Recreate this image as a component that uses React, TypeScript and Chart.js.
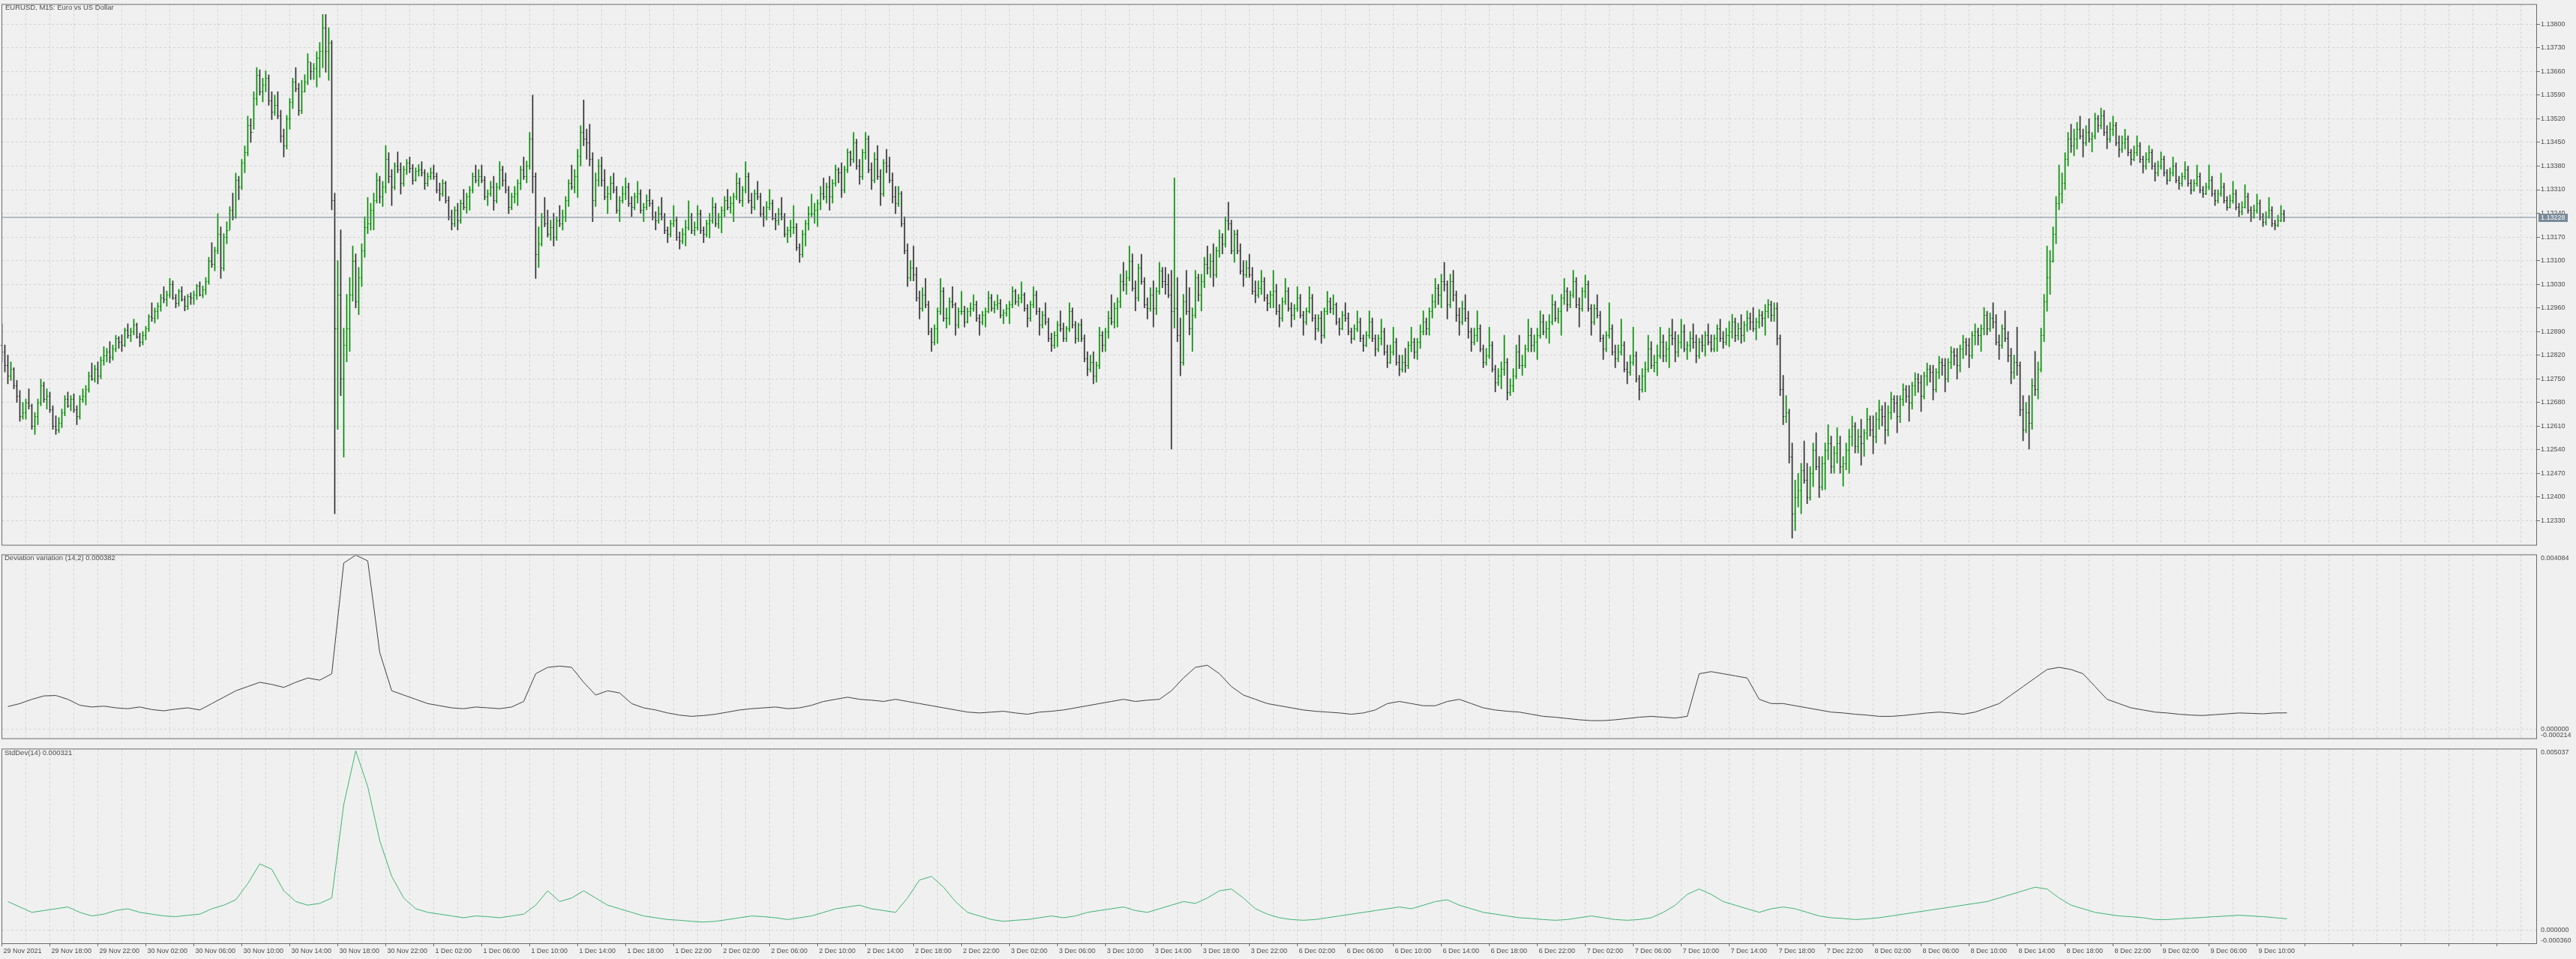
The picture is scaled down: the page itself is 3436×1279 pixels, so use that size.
import React, { useEffect, useRef } from 'react';
import { Chart, registerables } from 'chart.js';

Chart.register(...registerables);

// ---------------- text ----------------
const MAIN_TITLE = 'EURUSD, M15:  Euro vs US Dollar';
const DEV_TITLE = 'Deviation variation (14,2) 0.000382';
const STD_TITLE = 'StdDev(14) 0.000321';

// ---------------- data: M15 bars, prices in points above 1.12000 ----------------
const PRICE_BASE = 1.12;
const POINT = 0.00001;
const FIRST_OPEN = 850;
// one row = two hours (8 bars); bar 0 = 29 Nov 14:00, weekend skipped after bar 423
const BAR_HIGH = [
  913, 850, 820, 800, 783, 745, 715, 680, 690, 720, 675, 650, 690, 749, 740, 720,
  711, 670, 640, 635, 660, 700, 711, 700, 705, 670, 700, 720, 730, 770, 797, 790,
  800, 815, 845, 840, 860, 850, 879, 875, 880, 900, 913, 900, 927, 915, 885, 890,
  905, 940, 975, 960, 975, 1000, 1023, 1010, 1047, 1040, 1000, 1015, 1023, 995, 1000, 1005,
  1010, 1030, 1037, 1025, 1050, 1110, 1153, 1140, 1239, 1200, 1180, 1215, 1260, 1300, 1359, 1350,
  1400, 1440, 1528, 1520, 1600, 1672, 1665, 1640, 1662, 1650, 1600, 1590, 1600, 1545, 1490, 1530,
  1580, 1640, 1672, 1625, 1634, 1651, 1713, 1687, 1684, 1719, 1746, 1829, 1829, 1790, 1752, 1300,
  1100, 1191, 900, 1000, 1050, 1143, 1120, 1080, 1150, 1230, 1287, 1270, 1300, 1359, 1350, 1335,
  1441, 1420, 1370, 1390, 1422, 1390, 1380, 1400, 1407, 1385, 1375, 1385, 1393, 1370, 1360, 1375,
  1383, 1360, 1330, 1340, 1335, 1290, 1250, 1260, 1270, 1280, 1311, 1300, 1320, 1360, 1383, 1370,
  1383, 1350, 1310, 1335, 1350, 1330, 1393, 1380, 1359, 1320, 1300, 1320, 1340, 1380, 1407, 1395,
  1480, 1590, 1360, 1200, 1240, 1287, 1250, 1220, 1240, 1230, 1263, 1250, 1290, 1340, 1383, 1370,
  1430, 1500, 1576, 1490, 1504, 1420, 1360, 1400, 1407, 1370, 1320, 1350, 1359, 1320, 1290, 1320,
  1345, 1330, 1290, 1300, 1335, 1310, 1270, 1295, 1311, 1280, 1245, 1260, 1287, 1240, 1200, 1220,
  1263, 1230, 1185, 1195, 1220, 1277, 1240, 1215, 1263, 1250, 1200, 1220, 1240, 1287, 1270, 1240,
  1260, 1290, 1311, 1290, 1300, 1359, 1345, 1320, 1393, 1360, 1300, 1310, 1335, 1300, 1260, 1275,
  1311, 1280, 1240, 1255, 1287, 1240, 1200, 1220, 1263, 1210, 1150, 1190, 1220, 1260, 1297, 1270,
  1280, 1320, 1345, 1330, 1350, 1340, 1383, 1375, 1390, 1380, 1431, 1425, 1480, 1460, 1400, 1430,
  1480, 1470, 1390, 1420, 1441, 1370, 1400, 1430, 1407, 1360, 1320, 1320, 1305, 1230, 1150, 1100,
  1143, 1080, 1010, 1020, 1047, 980, 900, 910, 960, 1047, 1020, 960, 990, 1023, 975, 960,
  1009, 965, 960, 975, 999, 980, 940, 950, 960, 1009, 1000, 980, 999, 985, 955, 970,
  980, 1023, 1015, 1000, 1037, 1005, 970, 980, 1023, 1010, 960, 950, 975, 930, 885, 890,
  920, 951, 915, 905, 975, 960, 920, 915, 927, 880, 830, 820, 830, 800, 903, 890,
  900, 950, 999, 975, 990, 1060, 1095, 1070, 1143, 1120, 1040, 1090, 1119, 1050, 990, 1020,
  1040, 1020, 1095, 1080, 1080, 1060, 1071, 1345, 1050, 930, 1000, 1071, 1020, 960, 1071, 1060,
  1060, 1110, 1143, 1120, 1150, 1140, 1191, 1180, 1230, 1273, 1220, 1190, 1191, 1150, 1100, 1100,
  1119, 1080, 1040, 1040, 1071, 1050, 1000, 1010, 1071, 1030, 970, 990, 1047, 1020, 975, 970,
  1023, 1000, 950, 960, 1023, 1000, 940, 940, 950, 960, 1009, 990, 999, 975, 930, 950,
  975, 945, 900, 910, 951, 930, 880, 890, 951, 930, 880, 880, 927, 900, 850, 850,
  903, 870, 820, 820, 840, 860, 903, 870, 870, 910, 951, 930, 960, 1000, 1047, 1030,
  1060, 1095, 1040, 1060, 1071, 1010, 960, 980, 999, 950, 900, 900, 951, 910, 850, 840,
  903, 860, 790, 780, 800, 879, 810, 750, 780, 850, 879, 820, 850, 927, 900, 880,
  900, 951, 940, 920, 940, 999, 980, 960, 1000, 1047, 1020, 1010, 1071, 1050, 990, 1020,
  1057, 1040, 970, 970, 999, 950, 880, 890, 975, 910, 850, 850, 927, 860, 800, 820,
  903, 830, 760, 780, 800, 879, 860, 820, 850, 903, 880, 860, 900, 927, 890, 880,
  927, 910, 860, 890, 913, 880, 870, 880, 890, 913, 880, 880, 910, 927, 890, 900,
  920, 941, 930, 915, 940, 920, 951, 945, 961, 930, 955, 950, 970, 985, 980, 975,
  975, 880, 760, 700, 660, 560, 450, 470, 500, 566, 500, 490, 560, 590, 520, 520,
  560, 614, 580, 550, 605, 580, 520, 560, 600, 639, 620, 600, 630, 600, 663, 640,
  640, 650, 687, 670, 680, 670, 711, 700, 700, 700, 735, 730, 730, 740, 768, 765,
  760, 770, 797, 790, 790, 780, 817, 810, 810, 810, 845, 840, 840, 850, 879, 870,
  870, 890, 913, 900, 910, 961, 950, 945, 975, 940, 880, 910, 951, 890, 840, 820,
  903, 800, 700, 680, 700, 750, 831, 800, 900, 1000, 1143, 1130, 1200, 1290, 1383, 1360,
  1420, 1480, 1504, 1490, 1510, 1528, 1490, 1500, 1520, 1480, 1537, 1530, 1552, 1545, 1500, 1510,
  1528, 1510, 1470, 1470, 1489, 1470, 1430, 1440, 1470, 1450, 1410, 1420, 1441, 1430, 1390, 1395,
  1422, 1410, 1370, 1375, 1407, 1390, 1350, 1360, 1393, 1380, 1340, 1340, 1383, 1360, 1320, 1330,
  1383, 1350, 1310, 1310, 1359, 1330, 1290, 1295, 1335, 1310, 1270, 1275, 1325, 1300, 1260, 1265,
  1297, 1280, 1240, 1245, 1287, 1260, 1220, 1235, 1263, 1250,
];
const BAR_LOW = [
  800, 770, 735, 745, 720, 680, 624, 630, 630, 660, 600, 585, 614, 670, 680, 660,
  650, 600, 585, 590, 605, 640, 665, 655, 650, 614, 630, 680, 672, 710, 745, 740,
  735, 750, 790, 800, 797, 805, 830, 840, 831, 845, 870, 860, 880, 870, 845, 850,
  865, 890, 920, 915, 927, 950, 975, 965, 990, 985, 960, 965, 980, 951, 955, 970,
  970, 985, 995, 990, 999, 1030, 1080, 1070, 1120, 1047, 1070, 1150, 1191, 1220, 1225, 1280,
  1311, 1360, 1410, 1450, 1489, 1560, 1590, 1570, 1600, 1560, 1518, 1530, 1520, 1450, 1407, 1430,
  1489, 1550, 1600, 1530, 1535, 1599, 1621, 1636, 1636, 1614, 1643, 1671, 1658, 1634, 1250, 350,
  600, 700, 518, 800, 831, 980, 960, 940, 1023, 1110, 1180, 1190, 1191, 1270, 1270, 1260,
  1300, 1330, 1263, 1310, 1360, 1297, 1320, 1355, 1360, 1326, 1335, 1350, 1350, 1311, 1320, 1340,
  1340, 1300, 1277, 1290, 1270, 1220, 1191, 1200, 1191, 1210, 1250, 1240, 1249, 1300, 1330, 1320,
  1330, 1280, 1263, 1290, 1249, 1270, 1310, 1320, 1300, 1239, 1250, 1270, 1263, 1310, 1340, 1330,
  1370, 1300, 1047, 1080, 1143, 1200, 1170, 1160, 1143, 1160, 1200, 1190, 1215, 1260, 1310, 1300,
  1287, 1380, 1440, 1400, 1380, 1215, 1260, 1320, 1320, 1280, 1239, 1280, 1300, 1240, 1215, 1270,
  1280, 1260, 1230, 1250, 1270, 1240, 1215, 1250, 1260, 1220, 1191, 1210, 1220, 1180, 1153, 1170,
  1200, 1160, 1134, 1150, 1143, 1190, 1180, 1175, 1190, 1180, 1153, 1170, 1167, 1210, 1200, 1195,
  1182, 1230, 1250, 1240, 1215, 1280, 1270, 1260, 1300, 1270, 1239, 1250, 1280, 1230, 1201, 1220,
  1250, 1220, 1191, 1205, 1220, 1170, 1153, 1170, 1180, 1130, 1095, 1110, 1143, 1190, 1230, 1210,
  1201, 1250, 1280, 1270, 1249, 1270, 1320, 1330, 1287, 1300, 1360, 1380, 1390, 1370, 1326, 1340,
  1400, 1360, 1311, 1330, 1340, 1263, 1290, 1360, 1330, 1270, 1239, 1260, 1200, 1120, 1023, 1040,
  1040, 980, 927, 950, 960, 880, 831, 850, 855, 940, 920, 900, 910, 960, 879, 900,
  940, 903, 915, 935, 950, 920, 879, 910, 903, 945, 950, 945, 955, 930, 913, 935,
  913, 960, 970, 965, 975, 950, 903, 920, 960, 940, 879, 900, 910, 860, 831, 840,
  845, 890, 860, 860, 890, 900, 855, 860, 860, 800, 759, 770, 735, 740, 780, 830,
  831, 870, 910, 900, 903, 960, 1010, 1000, 1040, 1010, 951, 980, 1030, 960, 927, 950,
  903, 940, 1000, 1020, 1000, 990, 542, 900, 860, 759, 790, 940, 880, 831, 930, 980,
  951, 1020, 1060, 1050, 1023, 1050, 1110, 1120, 1140, 1190, 1120, 1095, 1120, 1060, 1023, 1050,
  1050, 1000, 975, 990, 1000, 980, 951, 960, 960, 940, 903, 920, 970, 950, 903, 925,
  950, 930, 879, 910, 945, 920, 865, 890, 855, 870, 940, 945, 940, 910, 879, 895,
  920, 880, 855, 865, 890, 860, 831, 845, 870, 860, 817, 830, 850, 820, 783, 795,
  820, 790, 759, 770, 769, 780, 830, 810, 807, 840, 880, 880, 879, 930, 960, 970,
  960, 1010, 927, 960, 980, 920, 879, 910, 920, 870, 831, 850, 860, 830, 783, 790,
  810, 770, 711, 730, 720, 760, 687, 700, 711, 750, 780, 760, 783, 830, 830, 830,
  807, 870, 880, 870, 855, 910, 920, 915, 879, 970, 950, 960, 990, 960, 903, 950,
  990, 950, 879, 910, 930, 860, 807, 830, 870, 820, 783, 800, 820, 770, 735, 760,
  790, 740, 687, 710, 711, 770, 780, 770, 759, 810, 800, 800, 783, 850, 800, 815,
  840, 830, 807, 830, 840, 797, 810, 830, 817, 850, 830, 830, 831, 860, 840, 850,
  845, 870, 860, 865, 855, 860, 890, 895, 890, 865, 900, 905, 879, 930, 920, 920,
  850, 700, 614, 620, 500, 278, 300, 370, 350, 440, 380, 390, 430, 480, 398, 420,
  422, 510, 470, 470, 500, 470, 432, 480, 470, 550, 530, 530, 494, 520, 570, 580,
  528, 560, 600, 610, 557, 580, 630, 650, 590, 620, 670, 680, 624, 660, 700, 710,
  653, 690, 730, 740, 687, 710, 750, 760, 711, 740, 780, 790, 749, 770, 810, 820,
  783, 810, 850, 850, 831, 880, 880, 890, 900, 850, 807, 840, 860, 800, 735, 750,
  760, 640, 566, 590, 542, 600, 700, 690, 770, 860, 950, 1000, 1095, 1150, 1250, 1270,
  1311, 1380, 1420, 1410, 1430, 1460, 1407, 1440, 1450, 1422, 1460, 1480, 1490, 1470, 1431, 1450,
  1470, 1440, 1407, 1420, 1430, 1410, 1383, 1395, 1410, 1390, 1359, 1370, 1390, 1370, 1335, 1350,
  1370, 1350, 1326, 1335, 1350, 1330, 1311, 1320, 1340, 1320, 1297, 1305, 1320, 1300, 1287, 1295,
  1310, 1290, 1263, 1270, 1290, 1270, 1249, 1255, 1270, 1250, 1230, 1235, 1255, 1240, 1215, 1225,
  1240, 1220, 1201, 1205, 1225, 1200, 1191, 1200, 1215, 1215,
];
const BAR_CLOSE = [
  830, 790, 760, 780, 730, 700, 640, 650, 680, 670, 610, 640, 680, 730, 690, 700,
  660, 610, 600, 620, 650, 690, 670, 690, 660, 640, 690, 700, 720, 760, 750, 780,
  760, 805, 820, 830, 815, 840, 870, 860, 850, 895, 880, 890, 910, 875, 860, 880,
  900, 935, 930, 950, 965, 990, 985, 1000, 1030, 990, 975, 1010, 985, 965, 995, 990,
  1000, 1025, 1000, 1015, 1040, 1100, 1090, 1130, 1180, 1080, 1170, 1190, 1250, 1230, 1340, 1320,
  1390, 1420, 1500, 1480, 1580, 1650, 1600, 1620, 1640, 1575, 1540, 1560, 1530, 1470, 1440, 1520,
  1570, 1630, 1610, 1546, 1600, 1630, 1690, 1660, 1670, 1700, 1720, 1790, 1720, 1745, 1280, 900,
  1000, 750, 850, 900, 1000, 1100, 980, 1050, 1130, 1200, 1210, 1250, 1280, 1340, 1290, 1320,
  1400, 1350, 1320, 1380, 1370, 1330, 1370, 1390, 1375, 1340, 1365, 1370, 1360, 1330, 1350, 1360,
  1350, 1310, 1300, 1330, 1280, 1230, 1210, 1250, 1220, 1270, 1260, 1290, 1310, 1350, 1340, 1350,
  1340, 1290, 1300, 1320, 1280, 1320, 1370, 1340, 1310, 1260, 1290, 1300, 1330, 1370, 1350, 1380,
  1460, 1350, 1120, 1150, 1230, 1210, 1180, 1200, 1170, 1220, 1210, 1230, 1280, 1330, 1320, 1350,
  1410, 1480, 1460, 1450, 1400, 1280, 1340, 1380, 1340, 1290, 1300, 1330, 1310, 1250, 1280, 1300,
  1320, 1270, 1260, 1290, 1300, 1250, 1260, 1280, 1270, 1230, 1220, 1240, 1230, 1190, 1180, 1210,
  1220, 1170, 1160, 1180, 1200, 1230, 1190, 1200, 1240, 1190, 1180, 1210, 1220, 1260, 1210, 1230,
  1250, 1280, 1260, 1270, 1290, 1330, 1280, 1310, 1350, 1280, 1260, 1300, 1290, 1240, 1230, 1260,
  1270, 1225, 1220, 1240, 1230, 1180, 1190, 1200, 1200, 1140, 1120, 1180, 1210, 1240, 1240, 1250,
  1270, 1300, 1290, 1320, 1290, 1330, 1370, 1360, 1310, 1370, 1420, 1400, 1450, 1380, 1350, 1420,
  1460, 1370, 1340, 1400, 1350, 1300, 1390, 1380, 1340, 1290, 1270, 1300, 1210, 1130, 1050, 1080,
  1060, 990, 960, 1000, 970, 890, 860, 900, 950, 1010, 930, 930, 980, 970, 910, 950,
  950, 920, 950, 960, 970, 930, 920, 940, 950, 990, 960, 970, 975, 940, 945, 960,
  970, 1010, 980, 990, 1000, 960, 930, 970, 1000, 950, 910, 940, 920, 870, 850, 880,
  910, 900, 870, 900, 950, 910, 870, 910, 870, 810, 780, 800, 760, 790, 880, 850,
  890, 930, 920, 960, 980, 1040, 1030, 1050, 1100, 1020, 990, 1080, 1040, 970, 960, 1000,
  960, 1010, 1070, 1040, 1030, 1000, 950, 960, 880, 800, 980, 950, 900, 940, 1050, 1000,
  1040, 1090, 1080, 1100, 1060, 1130, 1170, 1150, 1220, 1210, 1130, 1180, 1130, 1070, 1060, 1080,
  1060, 1010, 1000, 1020, 1040, 990, 975, 1000, 1010, 950, 930, 980, 1010, 960, 940, 960,
  990, 940, 920, 950, 990, 930, 900, 930, 880, 950, 980, 960, 970, 920, 900, 940,
  930, 890, 870, 900, 920, 870, 850, 880, 920, 870, 840, 870, 890, 830, 800, 830,
  860, 800, 780, 800, 790, 850, 860, 830, 860, 890, 920, 900, 950, 980, 1020, 1000,
  1040, 1030, 970, 1040, 1000, 940, 920, 960, 930, 890, 860, 880, 900, 840, 800, 820,
  850, 780, 740, 760, 780, 800, 710, 730, 760, 830, 790, 790, 840, 880, 850, 860,
  880, 920, 890, 900, 920, 970, 930, 950, 990, 1010, 970, 1000, 1040, 970, 960, 1010,
  1030, 960, 920, 960, 940, 870, 840, 880, 900, 830, 810, 830, 850, 780, 770, 800,
  820, 750, 720, 760, 780, 840, 790, 800, 820, 860, 820, 840, 880, 870, 830, 860,
  890, 840, 850, 870, 860, 820, 860, 850, 880, 860, 840, 870, 900, 870, 860, 880,
  890, 920, 880, 900, 880, 910, 930, 920, 900, 920, 940, 930, 950, 970, 940, 960,
  870, 720, 640, 650, 520, 350, 400, 420, 480, 450, 400, 470, 540, 490, 430, 500,
  540, 560, 490, 530, 560, 490, 500, 540, 580, 610, 550, 580, 560, 590, 630, 600,
  580, 630, 660, 640, 600, 650, 690, 680, 640, 690, 720, 700, 680, 730, 750, 740,
  700, 760, 780, 770, 720, 770, 800, 790, 750, 800, 830, 820, 790, 840, 860, 850,
  820, 880, 890, 880, 900, 940, 900, 930, 920, 860, 850, 900, 870, 820, 770, 800,
  790, 660, 600, 650, 620, 730, 720, 780, 880, 980, 1050, 1100, 1180, 1270, 1300, 1330,
  1400, 1460, 1440, 1460, 1490, 1470, 1450, 1480, 1460, 1470, 1520, 1500, 1530, 1480, 1460, 1490,
  1500, 1450, 1430, 1450, 1460, 1420, 1400, 1420, 1440, 1400, 1380, 1400, 1420, 1380, 1360, 1380,
  1400, 1360, 1340, 1360, 1380, 1340, 1330, 1350, 1370, 1330, 1310, 1330, 1350, 1310, 1300, 1320,
  1340, 1300, 1280, 1300, 1320, 1280, 1260, 1280, 1300, 1260, 1245, 1260, 1290, 1250, 1230, 1250,
  1270, 1230, 1215, 1230, 1250, 1210, 1205, 1220, 1240, 1228,
];
const CURRENT_PRICE = 1.13228;

// indicator values (x 1e-6), one per hour (taken at the hour's M15 bar index + 2)
const IND_X = Array.from({ length: 191 }, (_, h) => h * 4 + 2);
const DEV_VAR = [
  530, 600, 700, 780, 790, 700, 560, 520, 540, 500,
  480, 520, 460, 430, 470, 500, 450, 600, 750, 900,
  1000, 1100, 1050, 980, 1100, 1200, 1150, 1300, 3900, 4084,
  3950, 1800, 900, 800, 700, 600, 550, 500, 480, 520,
  500, 480, 520, 650, 1300, 1450, 1480, 1450, 1100, 800,
  900, 850, 600, 500, 450, 380, 330, 300, 320, 350,
  400, 450, 480, 500, 520, 480, 500, 560, 650, 700,
  750, 700, 680, 650, 700, 650, 600, 550, 500, 450,
  400, 380, 400, 420, 380, 350, 400, 420, 450, 500,
  550, 600, 650, 700, 650, 680, 700, 900, 1200, 1450,
  1500, 1300, 1000, 800, 700, 600, 550, 500, 450, 420,
  400, 380, 350, 380, 450, 600, 650, 600, 550, 550,
  650, 700, 600, 500, 450, 420, 400, 350, 300, 280,
  250, 220, 200, 200, 220, 250, 280, 300, 280, 260,
  300, 1300, 1350, 1300, 1250, 1200, 700, 600, 600, 550,
  500, 450, 400, 380, 350, 330, 300, 300, 320, 350,
  380, 400, 380, 350, 400, 500, 600, 800, 1000, 1200,
  1400, 1450, 1400, 1300, 1000, 700, 600, 500, 450, 400,
  380, 350, 330, 320, 340, 360, 380, 370, 360, 380, 382,
];
const STD_DEV = [
  800, 650, 500, 550, 600, 650, 500, 400, 450, 550,
  600, 500, 450, 400, 380, 420, 450, 600, 700, 850,
  1300, 1850, 1700, 1100, 800, 700, 750, 900, 3500, 5000,
  4000, 2500, 1500, 900, 600, 500, 450, 400, 350, 400,
  380, 350, 400, 450, 700, 1100, 800, 900, 1100, 900,
  700, 600, 500, 400, 350, 300, 280, 250, 230, 250,
  300, 350, 400, 380, 350, 300, 350, 400, 500, 600,
  650, 700, 600, 550, 500, 900, 1400, 1500, 1200, 800,
  500, 400, 300, 250, 280, 300, 350, 400, 350, 400,
  500, 550, 600, 650, 550, 500, 600, 700, 800, 750,
  900, 1100, 1150, 900, 600, 450, 350, 300, 280, 300,
  350, 400, 450, 500, 550, 600, 650, 600, 700, 800,
  850, 700, 600, 500, 450, 400, 350, 330, 300, 280,
  300, 350, 400, 350, 300, 280, 300, 350, 500, 700,
  1000, 1150, 1000, 800, 700, 600, 500, 600, 650, 600,
  500, 400, 350, 330, 300, 320, 350, 400, 450, 500,
  550, 600, 650, 700, 750, 800, 900, 1000, 1100, 1200,
  1150, 900, 700, 600, 500, 450, 400, 380, 350, 300,
  300, 320, 340, 360, 380, 400, 420, 400, 380, 350, 321,
];

// ---------------- axes ----------------
const PRICE_TICKS = [
  1.1233, 1.124, 1.1247, 1.1254, 1.1261, 1.1268, 1.1275, 1.1282, 1.1289, 1.1296, 1.1303,
  1.131, 1.1317, 1.1324, 1.1331, 1.1338, 1.1345, 1.1352, 1.1359, 1.1366, 1.1373, 1.138,
];
const TIME_LABELS = [
  '29 Nov 2021', '29 Nov 18:00', '29 Nov 22:00', '30 Nov 02:00', '30 Nov 06:00', '30 Nov 10:00',
  '30 Nov 14:00', '30 Nov 18:00', '30 Nov 22:00', '1 Dec 02:00', '1 Dec 06:00', '1 Dec 10:00',
  '1 Dec 14:00', '1 Dec 18:00', '1 Dec 22:00', '2 Dec 02:00', '2 Dec 06:00', '2 Dec 10:00',
  '2 Dec 14:00', '2 Dec 18:00', '2 Dec 22:00', '3 Dec 02:00', '3 Dec 06:00', '3 Dec 10:00',
  '3 Dec 14:00', '3 Dec 18:00', '3 Dec 22:00', '6 Dec 02:00', '6 Dec 06:00', '6 Dec 10:00',
  '6 Dec 14:00', '6 Dec 18:00', '6 Dec 22:00', '7 Dec 02:00', '7 Dec 06:00', '7 Dec 10:00',
  '7 Dec 14:00', '7 Dec 18:00', '7 Dec 22:00', '8 Dec 02:00', '8 Dec 06:00', '8 Dec 10:00',
  '8 Dec 14:00', '8 Dec 18:00', '8 Dec 22:00', '9 Dec 02:00', '9 Dec 06:00', '9 Dec 10:00',
];
const LABEL_EVERY = 16; // bars between time labels
const GRID_EVERY = 8; // bars between vertical grid lines
const DEV_MIN = -0.000214;
const DEV_MAX = 0.004084;
const DEV_AXIS_LABELS = ['0.004084', '0.000000', '-0.000214'];
const STD_MIN = -0.00036;
const STD_MAX = 0.005037;
const STD_AXIS_LABELS = ['0.005037', '0.000000', '-0.000360'];
const PRICE_MIN = 1.122582;
const PRICE_MAX = 1.138577;

// ---------------- layout / style ----------------
const PAGE_W = 3436;
const PAGE_H = 1279;
const AXIS_W = 53;
const X_MIN = 0.125;
const X_MAX = 845.125;
const FONT = 'Liberation Sans';
const BG = '#f0f0f0';
const GRID_COLOR = '#d3d3d3';
const FRAME_COLOR = '#6a6a6a';
const TEXT_COLOR = '#4b4b4b';
const UP_COLOR = '#008c00';
const DOWN_COLOR = '#2e2e2e';
const PRICE_LINE_COLOR = '#778899';
const DEV_COLOR = '#404040';
const STD_COLOR = '#3cb371';
const CLEAR = 'rgba(0,0,0,0)';

const toPrice = (p: number) => PRICE_BASE + p * POINT;
const BAR_OPEN = BAR_CLOSE.map((_, i) => (i === 0 ? FIRST_OPEN : BAR_CLOSE[i - 1]));
const GRID_BARS = Array.from({ length: Math.floor(X_MAX / GRID_EVERY) + 1 }, (_, k) => k * GRID_EVERY);

const framePlugin = {
  id: 'paneFrame',
  afterDraw(chart: any) {
    const { ctx, chartArea: a } = chart;
    ctx.save();
    ctx.strokeStyle = FRAME_COLOR;
    ctx.lineWidth = 1;
    ctx.strokeRect(a.left - 0.5, a.top - 0.5, a.right - a.left + 1, a.bottom - a.top + 1);
    ctx.restore();
  },
};

const ohlcTickPlugin = {
  id: 'ohlcTicks',
  afterDatasetsDraw(chart: any) {
    const xs = chart.scales.x;
    const ys = chart.scales.y;
    const ctx = chart.ctx;
    ctx.save();
    for (let i = 0; i < BAR_CLOSE.length; i++) {
      const x = Math.floor(xs.getPixelForValue(i));
      const o = BAR_OPEN[i];
      const c = BAR_CLOSE[i];
      ctx.fillStyle = c >= o ? UP_COLOR : DOWN_COLOR;
      ctx.fillRect(x - 1, Math.round(ys.getPixelForValue(toPrice(o))), 1, 1);
      ctx.fillRect(x + 1, Math.round(ys.getPixelForValue(toPrice(c))), 1, 1);
    }
    ctx.restore();
  },
};

const priceTagPlugin = {
  id: 'priceTag',
  afterDraw(chart: any) {
    const { ctx, chartArea: a } = chart;
    const y = Math.round(chart.scales.y.getPixelForValue(CURRENT_PRICE));
    ctx.save();
    ctx.fillStyle = PRICE_LINE_COLOR;
    ctx.fillRect(a.right + 3, y - 5, 39, 11);
    ctx.fillStyle = '#ffffff';
    ctx.font = `9px "${FONT}"`;
    ctx.textBaseline = 'middle';
    ctx.fillText(CURRENT_PRICE.toFixed(5), a.right + 6, y + 0.5);
    ctx.restore();
  },
};

function xScale(withLabels: boolean, height: number) {
  return {
    type: 'linear',
    min: X_MIN,
    max: X_MAX,
    offset: false,
    afterBuildTicks: (axis: any) => {
      axis.ticks = GRID_BARS.map((v) => ({ value: v }));
    },
    afterFit: (axis: any) => {
      axis.height = height;
    },
    grid: {
      offset: false,
      color: GRID_COLOR,
      lineWidth: 1,
      drawTicks: withLabels,
      tickLength: 4,
      tickWidth: 1,
      tickBorderDash: [],
      tickColor: (c: any) => (c.tick && c.tick.value % LABEL_EVERY === 0 ? FRAME_COLOR : CLEAR),
    },
    border: { display: false, dash: [3, 3] },
    ticks: {
      display: withLabels,
      autoSkip: false,
      maxRotation: 0,
      minRotation: 0,
      align: 'start',
      padding: 1,
      labelOffset: 2,
      color: TEXT_COLOR,
      font: { family: FONT, size: 9 },
      callback: (v: number) => {
        const k = v / LABEL_EVERY;
        return Number.isInteger(k) && k < TIME_LABELS.length ? TIME_LABELS[k] : '';
      },
    },
  };
}

function paneYScale(min: number, max: number, labels: string[], plotH: number) {
  const perPx = (max - min) / plotH;
  const values = [max - 4 * perPx, 0, min + 4 * perPx];
  return {
    type: 'linear',
    position: 'right',
    min,
    max,
    afterBuildTicks: (axis: any) => {
      axis.ticks = values.map((v) => ({ value: v }));
    },
    afterFit: (axis: any) => {
      axis.width = AXIS_W;
    },
    grid: {
      color: (c: any) => (c.tick && c.tick.value === 0 ? GRID_COLOR : CLEAR),
      tickLength: 4,
      tickColor: CLEAR,
      tickBorderDash: [],
    },
    border: { display: false, dash: [3, 3] },
    ticks: {
      autoSkip: false,
      padding: 2,
      color: TEXT_COLOR,
      font: { family: FONT, size: 9 },
      callback: (_v: number, i: number) => labels[i],
    },
  };
}

const baseOptions = (padTop: number, padBottom: number) => ({
  responsive: false,
  maintainAspectRatio: false,
  animation: false as const,
  events: [] as any[],
  devicePixelRatio: 1,
  layout: { padding: { left: 3, right: 0, top: padTop, bottom: padBottom } },
  plugins: { legend: { display: false }, tooltip: { enabled: false }, title: { display: false } },
});

export default function App() {
  const mainRef = useRef<HTMLCanvasElement>(null);
  const devRef = useRef<HTMLCanvasElement>(null);
  const stdRef = useRef<HTMLCanvasElement>(null);

  useEffect(() => {
    document.body.style.margin = '0';
    document.body.style.background = BG;
    const charts: Chart[] = [];

    const barData = BAR_HIGH.map((h, i) => ({ x: i, y: [toPrice(BAR_LOW[i]), toPrice(h)] }));
    const barColors = BAR_CLOSE.map((c, i) => (c >= BAR_OPEN[i] ? UP_COLOR : DOWN_COLOR));

    charts.push(
      new Chart(mainRef.current as HTMLCanvasElement, {
        type: 'bar',
        data: {
          datasets: [
            {
              type: 'line',
              data: [
                { x: X_MIN, y: CURRENT_PRICE },
                { x: X_MAX, y: CURRENT_PRICE },
              ],
              borderColor: PRICE_LINE_COLOR,
              borderWidth: 1,
              pointRadius: 0,
              order: 0,
            } as any,
            {
              type: 'bar',
              data: barData as any,
              backgroundColor: barColors,
              borderWidth: 0,
              barThickness: 1,
              grouped: false,
              order: 1,
            } as any,
          ],
        },
        options: {
          ...baseOptions(3, 1),
          scales: {
            x: xScale(false, 0) as any,
            y: {
              type: 'linear',
              position: 'right',
              min: PRICE_MIN,
              max: PRICE_MAX,
              afterBuildTicks: (axis: any) => {
                axis.ticks = PRICE_TICKS.map((v) => ({ value: v }));
              },
              afterFit: (axis: any) => {
                axis.width = AXIS_W;
              },
              grid: {
                color: GRID_COLOR,
                tickLength: 5,
                tickColor: FRAME_COLOR,
                tickBorderDash: [],
              },
              border: { display: false, dash: [3, 3] },
              ticks: {
                autoSkip: false,
                padding: 1,
                color: TEXT_COLOR,
                font: { family: FONT, size: 9 },
                callback: (v: any) => Number(v).toFixed(5),
              },
            } as any,
          },
        } as any,
        plugins: [framePlugin, ohlcTickPlugin, priceTagPlugin],
      })
    );

    charts.push(
      new Chart(devRef.current as HTMLCanvasElement, {
        type: 'line',
        data: {
          datasets: [
            {
              data: DEV_VAR.map((v, i) => ({ x: IND_X[i], y: v * 1e-6 })),
              borderColor: DEV_COLOR,
              borderWidth: 1,
              pointRadius: 0,
              tension: 0,
            },
          ],
        },
        options: {
          ...baseOptions(2, 1),
          scales: { x: xScale(false, 0) as any, y: paneYScale(DEV_MIN, DEV_MAX, DEV_AXIS_LABELS, 256) as any },
        } as any,
        plugins: [framePlugin],
      })
    );

    charts.push(
      new Chart(stdRef.current as HTMLCanvasElement, {
        type: 'line',
        data: {
          datasets: [
            {
              data: STD_DEV.map((v, i) => ({ x: IND_X[i], y: v * 1e-6 })),
              borderColor: STD_COLOR,
              borderWidth: 1,
              pointRadius: 0,
              tension: 0,
            },
          ],
        },
        options: {
          ...baseOptions(2, 0),
          scales: { x: xScale(true, 21) as any, y: paneYScale(STD_MIN, STD_MAX, STD_AXIS_LABELS, 264) as any },
        } as any,
        plugins: [framePlugin],
      })
    );

    return () => charts.forEach((c) => c.destroy());
  }, []);

  const titleStyle: React.CSSProperties = {
    position: 'absolute',
    fontFamily: FONT,
    fontSize: '9.5px',
    lineHeight: '11px',
    color: TEXT_COLOR,
    whiteSpace: 'nowrap',
  };

  return (
    <div style={{ position: 'fixed', left: 0, top: 0, width: PAGE_W, height: PAGE_H, background: BG, overflow: 'hidden' }}>
      <canvas ref={mainRef} width={PAGE_W} height={733} style={{ position: 'absolute', left: 0, top: 0 }} />
      <canvas ref={devRef} width={PAGE_W} height={259} style={{ position: 'absolute', left: 0, top: 733 }} />
      <canvas ref={stdRef} width={PAGE_W} height={287} style={{ position: 'absolute', left: 0, top: 992 }} />
      <div style={{ ...titleStyle, left: 7, top: 4 }}>{MAIN_TITLE}</div>
      <div style={{ ...titleStyle, left: 6, top: 738 }}>{DEV_TITLE}</div>
      <div style={{ ...titleStyle, left: 6, top: 998 }}>{STD_TITLE}</div>
    </div>
  );
}
